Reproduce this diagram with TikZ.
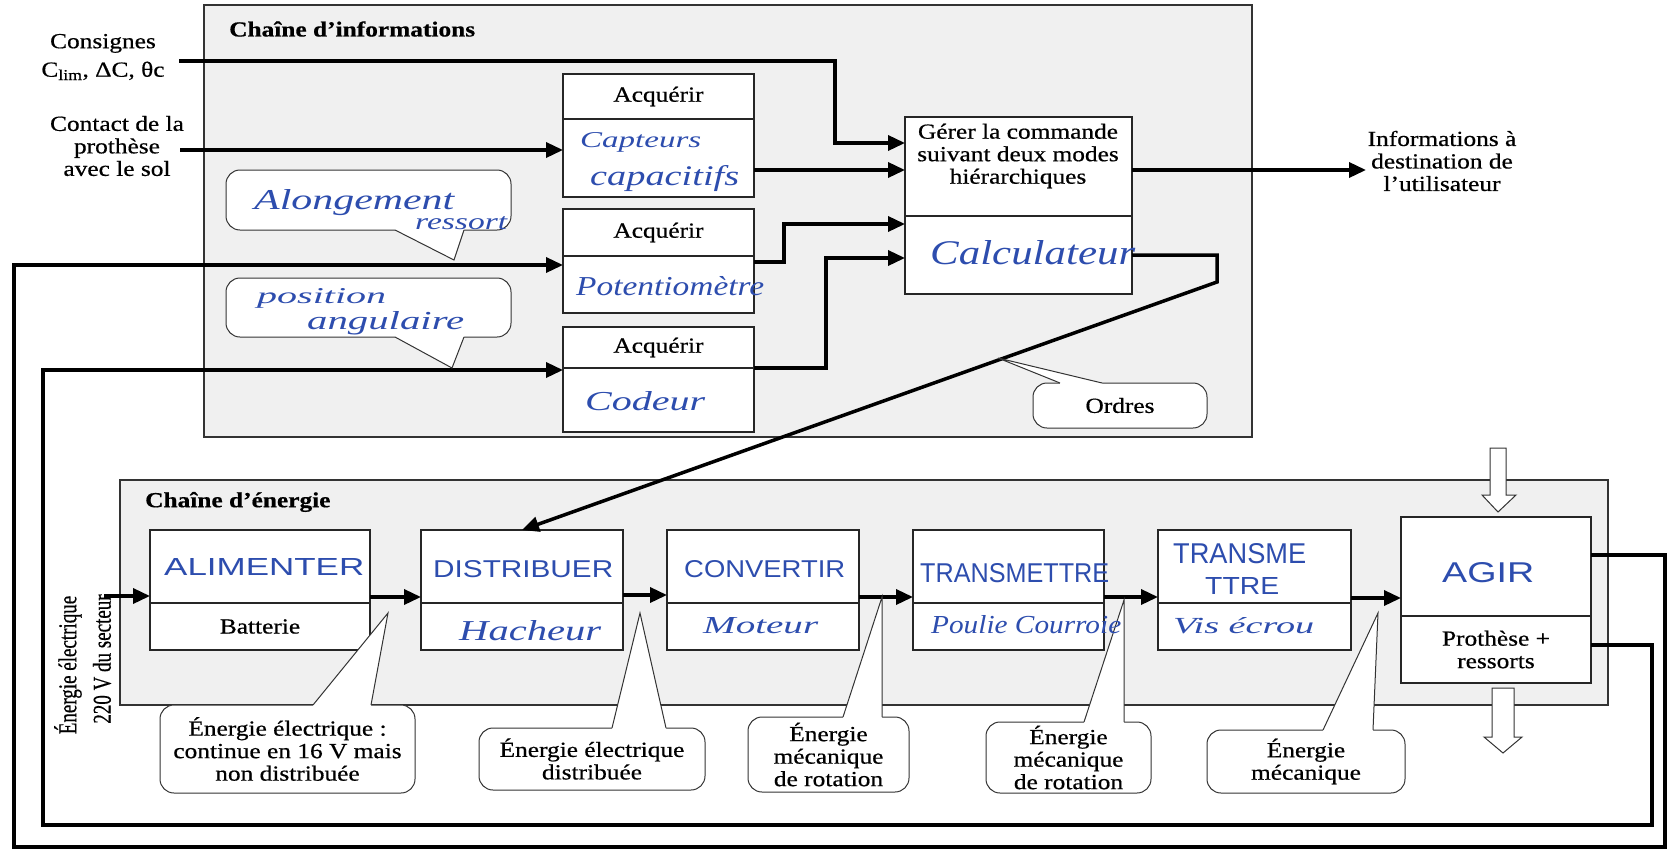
\documentclass[tikz,border=0pt]{standalone}
\usepackage{fontspec}
\usepackage{graphicx}
\setmainfont{Liberation Serif}[FakeStretch=1.18, FakeBold=0.6]
\newfontfamily\rotfont{Liberation Serif}[FakeBold=0.6]
\newfontfamily\hwserif{Liberation Serif}
\newfontfamily\hwsans{Liberation Sans}
\usetikzlibrary{arrows.meta,calc}
\definecolor{hand}{HTML}{2D4DAE}
\definecolor{panelgray}{HTML}{F0F0F0}
\newcommand\mytxt{\fontsize{21.5}{22.5}\selectfont}
\newcommand\hwl[3]{\resizebox{#1pt}{#2pt}{\hwserif\itshape #3}}
\newcommand\hwc[3]{\resizebox{#1pt}{#2pt}{\hwsans #3}}
\newcommand\calltail[6]{%
  \fill[white] (#1,#6) -- (#1,#3) -- (#4,#5) -- (#2,#3) -- (#2,#6) -- cycle;
  \draw[thinline] (#1,#3) -- (#4,#5) -- (#2,#3);}
\begin{document}
\begin{tikzpicture}[x=1pt,y=-1pt,
  panel/.style={draw=black!80, line width=1.1pt, fill=panelgray, inner sep=0pt, outer sep=0pt, anchor=north west},
  box/.style={draw=black!85, line width=1.1pt, fill=white, inner sep=0pt, outer sep=0pt, anchor=north west, font=\mytxt, align=center},
  bubble/.style={draw=black!80, line width=1pt, fill=white, rounded corners=14pt, inner sep=0pt, outer sep=0pt, align=center, font=\mytxt},
  thinline/.style={draw=black!80, line width=1pt},
  conn/.style={line width=3.5pt, -{Triangle[length=17pt,width=15pt]}},
  lbl/.style={font=\mytxt, align=center, inner sep=0pt},
  ttl/.style={font=\mytxt\bfseries, inner sep=0pt, anchor=west},
  hw/.style={text=hand, inner sep=0pt, anchor=base west},
  hollow/.style={draw=black!80, line width=1pt, fill=white}
]
\useasboundingbox (0,0) rectangle (1676,849);

% ---------- panels ----------
\node[panel, minimum width=1048pt, minimum height=432pt] (info) at (204,5) {};
\node[panel, minimum width=1488pt, minimum height=225pt] (ener) at (120,480) {};
\node[ttl] (tinfo) at (229,29) {Chaîne d'informations};
\node[ttl] (tener) at (145,502) {Chaîne d'énergie};

% ---------- information chain boxes ----------
\node[box, minimum width=191pt, minimum height=45pt] (a1t) at (563,74) {Acquérir};
\node[box, minimum width=191pt, minimum height=78pt] (a1b) at (563,119) {};
\node[box, minimum width=191pt, minimum height=47pt] (a2t) at (563,209) {Acquérir};
\node[box, minimum width=191pt, minimum height=57pt] (a2b) at (563,256) {};
\node[box, minimum width=191pt, minimum height=41pt] (a3t) at (563,327) {Acquérir};
\node[box, minimum width=191pt, minimum height=64pt] (a3b) at (563,368) {};
\node[box, minimum width=227pt, minimum height=99pt] (gT) at (905,117) {};
\node[box, minimum width=227pt, minimum height=78pt] (gB) at (905,216) {};
\node[lbl] (gtxt) at (1018,156) {Gérer la commande\\suivant deux modes\\hiérarchiques};

% ---------- outside labels ----------
\node[lbl] (cons) at (103,57) {Consignes\\[6pt]C\textsubscript{lim}, ΔC, θc};
\node[lbl] (cont) at (117,146) {Contact de la\\prothèse\\avec le sol};
\node[lbl] (usr) at (1442,161) {Informations à\\destination de\\l'utilisateur};
\coordinate (c0) at (179,61);
\coordinate (k0) at (180,150);
\coordinate (u0) at (1366,170);

% ---------- energy chain boxes ----------
\node[box, minimum width=220pt, minimum height=73pt] (alt) at (150,530) {};
\node[box, minimum width=220pt, minimum height=47pt] (alb) at (150,603) {Batterie};
\node[box, minimum width=202pt, minimum height=73pt] (dit) at (421,530) {};
\node[box, minimum width=202pt, minimum height=47pt] (dib) at (421,603) {};
\node[box, minimum width=192pt, minimum height=73pt] (cot) at (667,530) {};
\node[box, minimum width=192pt, minimum height=47pt] (cob) at (667,603) {};
\node[box, minimum width=191pt, minimum height=73pt] (trt) at (913,530) {};
\node[box, minimum width=191pt, minimum height=47pt] (trb) at (913,603) {};
\node[box, minimum width=193pt, minimum height=73pt] (t2t) at (1158,530) {};
\node[box, minimum width=193pt, minimum height=47pt] (t2b) at (1158,603) {};
\node[box, minimum width=190pt, minimum height=99pt] (agt) at (1401,517) {};
\node[box, minimum width=190pt, minimum height=67pt] (agb) at (1401,616) {Prothèse +\\ressorts};

\node[rotate=90, inner sep=0pt, font=\rotfont\fontsize{19}{21}\selectfont] (ee1) at (68,665) {\scalebox{1}[1.35]{Énergie électrique}};
\node[rotate=90, inner sep=0pt, font=\rotfont\fontsize{19}{21}\selectfont] (ee2) at (102,659) {\scalebox{1}[1.35]{220 V du secteur}};
\coordinate (e0) at (104,596);

% ---------- connectors ----------
\draw[conn] (c0) -- (835,61) -- (835,143) -- (gT.west |- 0,143);
\draw[conn] (k0) -- (a1b.west |- 0,150);
\draw[conn] (a1b.east |- 0,170) -- (gT.west |- 0,170);
\draw[conn] (a2b.east |- 0,262) -- (784,262) -- (784,224) -- (gB.west |- 0,224);
\draw[conn] (a3b.north east) -- (826,368) -- (826,258) -- (gB.west |- 0,258);
\draw[conn] (gT.east |- 0,170) -- (u0);
\draw[conn] (gB.east |- 0,255) -- (1217,255) -- (1217,282) -- (dit.north);

\draw[conn] (e0) -- (alt.west |- 0,596);
\draw[conn] (alt.east |- 0,597) -- (dit.west |- 0,597);
\draw[conn] (dit.east |- 0,595) -- (cot.west |- 0,595);
\draw[conn] (cot.east |- 0,597) -- (trt.west |- 0,597);
\draw[conn] (trt.east |- 0,597) -- (t2t.west |- 0,597);
\draw[conn] (t2t.east |- 0,598) -- (agt.west |- 0,598);

\draw[conn] (agt.east |- 0,555) -- (1665,555) -- (1665,847) -- (14,847) -- (14,265) -- (a2b.west |- 0,265);
\draw[conn] (agb.east |- 0,645) -- (1652,645) -- (1652,825) -- (43,825) -- (43,370) -- (a3b.west |- 0,370);

% ---------- callouts ----------
\node[bubble, minimum width=285pt, minimum height=60pt] (bal) at (368.5,200) {};
\calltail{395}{464}{230}{454}{260}{228}
\node[bubble, minimum width=285pt, minimum height=59pt] (bpo) at (368.5,307.5) {};
\calltail{395}{464}{337}{452}{368}{335}
\node[bubble, minimum width=174pt, minimum height=45pt] (bor) at (1120,405.5) {Ordres};
\calltail{1060}{1102}{383}{998}{358}{385}

\node[bubble, minimum width=255pt, minimum height=88pt] (b1) at (287.5,749) {Énergie électrique :\\continue en 16 V mais\\non distribuée};
\calltail{313}{371}{705}{388}{613}{707}
\node[bubble, minimum width=226pt, minimum height=62pt] (b2) at (592,759) {Énergie électrique\\distribuée};
\calltail{612}{666}{728}{640}{613}{730}
\node[bubble, minimum width=161pt, minimum height=75pt] (b3) at (828.5,754.5) {Énergie\\mécanique\\de rotation};
\calltail{843}{882}{717}{882}{597}{719}
\node[bubble, minimum width=165pt, minimum height=71pt] (b4) at (1068.5,757.5) {Énergie\\mécanique\\de rotation};
\calltail{1084}{1124}{722}{1124}{600}{724}
\node[bubble, minimum width=198pt, minimum height=63pt] (b5) at (1306,761.5) {Énergie\\mécanique};
\calltail{1323}{1373}{730}{1378}{613}{732}

% ---------- handwriting ----------
\node[hw] (h1) at (580,147) {\hwl{121}{15}{Capteurs}};
\node[hw] (h2) at (590,185) {\hwl{149}{20}{capacitifs}};
\node[hw] (h3) at (576,295) {\hwl{188}{19}{Potentiomètre}};
\node[hw] (h4) at (585,410) {\hwl{120}{19}{Codeur}};
\node[hw] (h5) at (930,264) {\hwl{205}{24}{Calculateur}};
\node[hw] (h6) at (254,209) {\hwl{200}{20}{Alongement}};
\node[hw] (h7) at (415,229) {\hwl{92}{13}{ressort}};
\node[hw] (h8) at (257,303) {\hwl{129}{15}{position}};
\node[hw] (h9) at (307,329) {\hwl{157}{18}{angulaire}};
\node[hw] (h10) at (164,575) {\hwc{200}{17}{ALIMENTER}};
\node[hw] (h11) at (433,577) {\hwc{180}{17}{DISTRIBUER}};
\node[hw] (h12) at (459,640) {\hwl{142}{20}{Hacheur}};
\node[hw] (h13) at (684,577) {\hwc{161}{17}{CONVERTIR}};
\node[hw] (h14) at (703,633) {\hwl{115}{16}{Moteur}};
\node[hw] (h15) at (920,582) {\hwc{189}{19}{TRANSMETTRE}};
\node[hw] (h16) at (931,633) {\hwl{190}{18}{Poulie Courroie}};
\node[hw] (h17) at (1173,563) {\hwc{133}{20}{TRANSME}};
\node[hw] (h18) at (1205,594) {\hwc{74}{17}{TTRE}};
\node[hw] (h19) at (1173,633) {\hwl{141}{16}{Vis écrou}};
\node[hw] (h20) at (1442,582) {\hwc{92}{20}{AGIR}};

% ---------- hollow arrows ----------
\draw[hollow] (1490,448) -- (1506,448) -- (1506,495) -- (1516,495) -- (1498,512) -- (1482,495) -- (1490,495) -- cycle;
\draw[hollow] (1492,688) -- (1514,688) -- (1514,737) -- (1522,737) -- (1503,753) -- (1484,737) -- (1492,737) -- cycle;
\end{tikzpicture}
\end{document}
